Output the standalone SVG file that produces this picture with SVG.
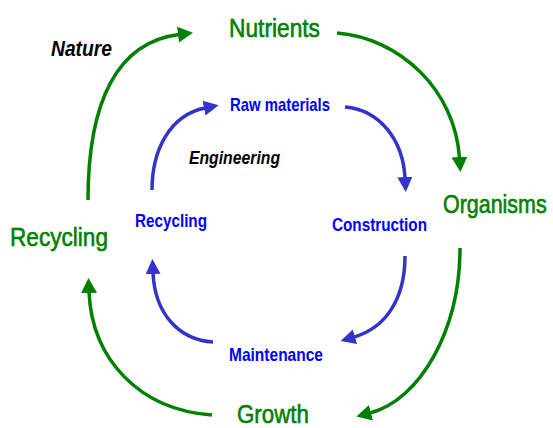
<svg xmlns="http://www.w3.org/2000/svg" width="553" height="428" viewBox="0 0 553 428">
<defs>
<style>
.g{fill:#008000;stroke:#008000;stroke-width:0.6;font-family:"Liberation Sans",Arial,sans-serif;font-size:26px}
.b{fill:#0000ff;font-family:"Liberation Sans",Arial,sans-serif;font-size:18.5px;font-weight:bold}
.k{fill:#000;font-family:"Liberation Sans",Arial,sans-serif;font-weight:bold;font-style:italic}
.ga{fill:none;stroke:#008000;stroke-width:3.5;marker-end:url(#ag)}
.ba{fill:none;stroke:#3333cc;stroke-width:3.5;marker-end:url(#ab)}
</style>
<marker id="ag" markerUnits="userSpaceOnUse" markerWidth="16" markerHeight="18" refX="1" refY="8" orient="auto" viewBox="0 0 16 16"><path d="M0,0 L15,8 L0,16 z" fill="#008000"/></marker>
<marker id="ab" markerUnits="userSpaceOnUse" markerWidth="16" markerHeight="18" refX="1" refY="7.5" orient="auto" viewBox="0 0 16 15"><path d="M0,0 L15,7.5 L0,15 z" fill="#3333cc"/></marker>
</defs>
<rect width="553" height="428" fill="#fff"/>
<g id="connectors">
<path class="ga" d="M88,200 C88,100 118,42 179,34.5"/>
<path class="ga" d="M337,33 C400,38 455,90 459.5,158"/>
<path class="ga" d="M460,248 C460,330 420,400 370,413"/>
<path class="ga" d="M212,415 C140,410 92,360 89,292"/>
<path class="ba" d="M152,190 C152,150 170,115 205,108"/>
<path class="ba" d="M345,107 C380,110 403,140 405,178"/>
<path class="ba" d="M405,256 C405,300 385,328 354,337"/>
<path class="ba" d="M213,342 C180,340 155,315 153,273"/>
</g>
<g id="nature"><text class="k" x="51" y="56" font-size="22.5" textLength="61" lengthAdjust="spacingAndGlyphs">Nature</text></g>
<g id="nutrients"><text class="g" x="229" y="37" textLength="91" lengthAdjust="spacingAndGlyphs">Nutrients</text></g>
<g id="organisms"><text class="g" x="0" y="0" font-size="27" transform="translate(443,213) scale(0.825,1)">Organisms</text></g>
<g id="growth"><text class="g" x="237" y="423" font-size="26" textLength="72" lengthAdjust="spacingAndGlyphs">Growth</text></g>
<g id="recycling-nature"><text class="g" x="10" y="246" textLength="98" lengthAdjust="spacingAndGlyphs">Recycling</text></g>
<g id="engineering"><text class="k" x="189" y="164" font-size="18" textLength="91" lengthAdjust="spacingAndGlyphs">Engineering</text></g>
<g id="raw-materials"><text class="b" x="230" y="111" textLength="100" lengthAdjust="spacingAndGlyphs">Raw materials</text></g>
<g id="construction"><text class="b" x="332" y="231" textLength="95" lengthAdjust="spacingAndGlyphs">Construction</text></g>
<g id="maintenance"><text class="b" x="229" y="361" textLength="94" lengthAdjust="spacingAndGlyphs">Maintenance</text></g>
<g id="recycling-eng"><text class="b" x="135" y="227" textLength="72" lengthAdjust="spacingAndGlyphs">Recycling</text></g>
</svg>
